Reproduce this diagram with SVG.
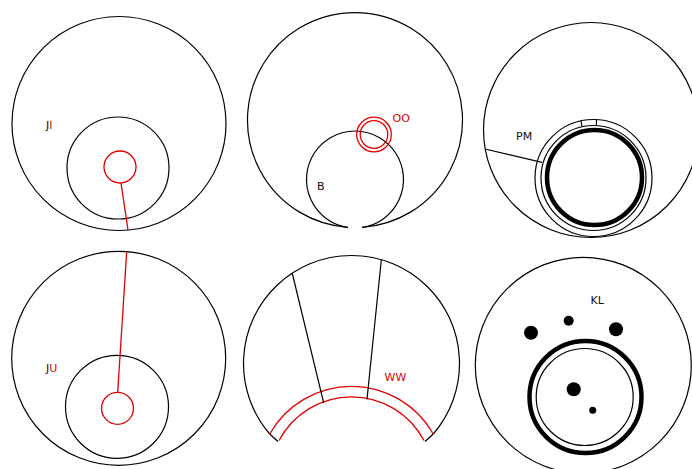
<svg xmlns="http://www.w3.org/2000/svg" width="692" height="469" viewBox="0 0 692 469">
<style>
.k{fill:none;stroke:#000;stroke-width:1.2}
.r{fill:none;stroke:#e00000;stroke-width:1.3}
.th{fill:none;stroke:#000;stroke-width:4.5}
.dot{fill:#000;stroke:none}
text{font-family:"DejaVu Sans",Verdana,sans-serif;font-size:11px;fill:#111}
.rt{fill:#e00000}
</style>
<rect width="692" height="469" fill="#fff"/>
<g id="panel-JI">
<circle class="k" cx="119" cy="123.5" r="107"/>
<circle class="k" cx="118" cy="168" r="51"/>
<circle class="r" cx="120" cy="167" r="16"/>
<line class="r" x1="121" y1="183" x2="128" y2="230"/>
<text x="46" y="129">J<tspan class="rt">I</tspan></text>
</g>
<g id="panel-B">
<path class="k" d="M348,227.3 A107.5,107.5 0 1 1 362,227.3"/>
<path class="k" d="M348,227.5 A48.5,48.5 0 1 1 362,227.5"/>
<circle class="r" cx="374" cy="134.5" r="17.3"/>
<circle class="r" cx="374" cy="134.5" r="13.8"/>
<text x="317" y="189.5">B</text>
<text class="rt" x="392.5" y="122">OO</text>
</g>
<g id="panel-PM">
<circle class="k" cx="591" cy="130" r="107.5"/>
<circle class="k" cx="593.5" cy="178" r="58.5"/>
<circle class="k" cx="593.5" cy="178" r="52.5"/>
<circle class="th" cx="594.5" cy="177.5" r="47.5"/>
<line class="k" x1="485" y1="149" x2="542" y2="162.3"/>
<line class="k" x1="581" y1="120.5" x2="582" y2="126.5"/>
<line class="k" x1="596.5" y1="119.5" x2="596.3" y2="126"/>
<text x="516" y="140">PM</text>
</g>
<g id="panel-JU">
<circle class="k" cx="118.7" cy="358.3" r="107"/>
<circle class="k" cx="117" cy="406.8" r="51.5"/>
<circle class="r" cx="117.5" cy="408.3" r="16"/>
<line class="r" x1="117.7" y1="392.3" x2="126.7" y2="251.6"/>
<text x="46" y="372">J<tspan class="rt">U</tspan></text>
</g>
<g id="panel-WW">
<path class="k" d="M269.7,434 A108,108 0 1 1 433.3,434"/>
<path class="r" d="M269.7,434 A94,94 0 0 1 433.3,434"/>
<path class="r" d="M279,440.5 A82,82 0 0 1 424,440.5"/>
<line class="k" x1="269.7" y1="434" x2="278" y2="441.5"/>
<line class="k" x1="433.3" y1="434" x2="425" y2="441.5"/>
<line class="k" x1="292.3" y1="273.5" x2="323.7" y2="402.8"/>
<line class="k" x1="381.3" y1="260" x2="367" y2="399.4"/>
<text class="rt" x="384.5" y="381">WW</text>
</g>
<g id="panel-KL">
<circle class="k" cx="583.3" cy="365.3" r="108"/>
<circle class="th" cx="585.5" cy="397" r="56"/>
<circle class="k" cx="584.7" cy="397" r="48.5"/>
<circle class="dot" cx="531" cy="332.7" r="7"/>
<circle class="dot" cx="568.7" cy="320.7" r="5"/>
<circle class="dot" cx="616" cy="329.3" r="7"/>
<circle class="dot" cx="573.7" cy="389.3" r="7"/>
<circle class="dot" cx="592.7" cy="410.3" r="3.5"/>
<text x="590.5" y="304">KL</text>
</g>
</svg>
